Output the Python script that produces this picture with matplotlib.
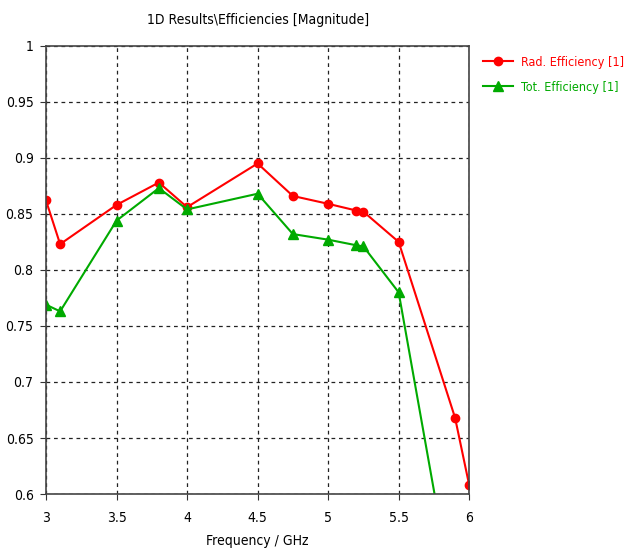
import matplotlib
matplotlib.use("Agg")
import matplotlib.pyplot as plt

# Datos
freq_rad = [3.0, 3.1, 3.5, 3.8, 4.0, 4.5, 4.75, 5.0, 5.2, 5.25, 5.5, 5.9, 6.0]
rad_eff = [0.862, 0.823, 0.858, 0.878, 0.856, 0.895, 0.866, 0.859, 0.853, 0.852, 0.825, 0.668, 0.608]

freq_tot = [3.0, 3.1, 3.5, 3.8, 4.0, 4.5, 4.75, 5.0, 5.2, 5.25, 5.5, 5.9, 6.0]
tot_eff = [0.769, 0.763, 0.844, 0.873, 0.854, 0.868, 0.832, 0.827, 0.822, 0.821, 0.780, 0.497, 0.43]

x_ticks = [3, 3.5, 4, 4.5, 5, 5.5, 6]
x_labels = ["3", "3.5", "4", "4.5", "5", "5.5", "6"]
y_ticks = [0.6, 0.65, 0.7, 0.75, 0.8, 0.85, 0.9, 0.95, 1.0]
y_labels = ["0.6", "0.65", "0.7", "0.75", "0.8", "0.85", "0.9", "0.95", "1"]

plt.rcParams["font.family"] = ["DejaVu Sans"]
plt.rcParams["font.stretch"] = "condensed"

fig = plt.figure(figsize=(6.26, 5.52), dpi=100)
ax = fig.add_axes([0.0735, 0.105, 0.676, 0.812])

ax.plot(freq_rad, rad_eff, color="#ff0000", marker="o", markersize=6,
        linewidth=1.5, label="Rad. Efficiency [1]")
ax.plot(freq_tot, tot_eff, color="#00aa00", marker="^", markersize=7,
        linewidth=1.5, label="Tot. Efficiency [1]")

ax.set_xlim(3, 6)
ax.set_ylim(0.6, 1.0)
ax.set_xticks(x_ticks)
ax.set_xticklabels(x_labels)
ax.set_yticks(y_ticks)
ax.set_yticklabels(y_labels)
ax.tick_params(labelsize=10, direction="out", length=4, color="#333333")
ax.tick_params(axis="x", pad=8)
ax.tick_params(axis="y", pad=5)

ax.grid(True, color="#222222", linestyle=(0, (3, 3)), linewidth=0.9)
for s in ax.spines.values():
    s.set_color("#444444")
    s.set_linewidth(1.2)

ax.set_title("1D Results\\Efficiencies [Magnitude]", fontsize=10, pad=16)
ax.set_xlabel("Frequency / GHz", fontsize=10, labelpad=7)

leg = ax.legend(loc="upper left", bbox_to_anchor=(1.033, 0.978), frameon=False,
                fontsize=9, handlelength=2.4, handletextpad=0.6,
                labelspacing=0.95, borderaxespad=0, borderpad=0)
for txt, c in zip(leg.get_texts(), ["#ff0000", "#00aa00"]):
    txt.set_color(c)

fig.savefig("out.png", dpi=100)
